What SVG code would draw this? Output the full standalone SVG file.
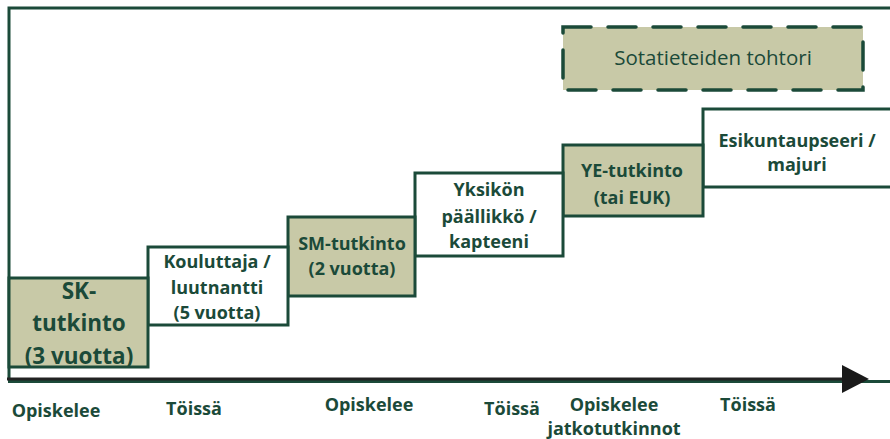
<svg xmlns="http://www.w3.org/2000/svg" width="890" height="439" viewBox="0 0 890 439">
  <style>
    .frame { fill: none; stroke: #1b4a39; stroke-width: 3; }
    .study { fill: #c8c9a7; stroke: #1b4a39; stroke-width: 3; }
    .work { fill: #ffffff; stroke: #1b4a39; stroke-width: 3; }
    .doc { fill: #c8c9a7; stroke: #1b4a39; stroke-width: 3.5; stroke-dasharray: 28 17; stroke-linecap: round; }
    text { font-family: "Open Sans", Lato, "Liberation Sans", sans-serif; fill: #1b4a39; text-anchor: middle; }
    .b { font-weight: bold; font-size: 18px; }
    .big { font-weight: bold; font-size: 22.5px; }
    .lbl { font-weight: bold; font-size: 18px; }
    .reg { font-size: 20.5px; }
  </style>

  <!-- outer frame -->
  <g id="frame">
    <polyline class="frame" points="9,380 9,8 890,8"/>
  </g>

  <g id="doctor">
    <rect class="doc" x="563" y="27" width="300" height="63"/>
    <text class="reg" x="713" y="65">Sotatieteiden tohtori</text>
  </g>

  <g id="esikunta">
    <rect class="work" x="703" y="109" width="190" height="78"/>
    <text class="b" x="797" y="147">Esikuntaupseeri /</text>
    <text class="b" x="797" y="171">majuri</text>
  </g>

  <g id="ye">
    <rect class="study" x="563" y="145" width="140" height="71"/>
    <text class="b" x="632" y="177">YE-tutkinto</text>
    <text class="b" x="632" y="204">(tai EUK)</text>
  </g>

  <g id="yksikko">
    <rect class="work" x="415" y="173" width="148" height="83"/>
    <text class="b" x="489" y="196">Yksikön</text>
    <text class="b" x="489" y="223">päällikkö /</text>
    <text class="b" x="489" y="248">kapteeni</text>
  </g>

  <g id="sm">
    <rect class="study" x="288" y="217" width="127" height="79"/>
    <text class="b" x="352" y="250">SM-tutkinto</text>
    <text class="b" x="352" y="275">(2 vuotta)</text>
  </g>

  <g id="kouluttaja">
    <rect class="work" x="148" y="247" width="140" height="78"/>
    <text class="b" x="217" y="268">Kouluttaja /</text>
    <text class="b" x="217" y="294">luutnantti</text>
    <text class="b" x="217" y="319">(5 vuotta)</text>
  </g>

  <g id="sk">
    <rect class="study" x="9" y="278" width="139" height="89"/>
    <text class="big" x="79" y="299">SK-</text>
    <text class="big" x="79" y="331">tutkinto</text>
    <text class="big" x="79" y="364">(3 vuotta)</text>
  </g>

  <!-- time axis -->
  <g id="connectors">
    <line x1="8" y1="381.5" x2="890" y2="381.5" stroke="#1b4a39" stroke-width="3"/>
    <line x1="7" y1="379" x2="845" y2="379" stroke="#222222" stroke-width="3"/>
    <polygon points="842,365 869,379 842,393" fill="#1a1a1a"/>
  </g>

  <g id="labels">
    <text class="lbl" x="56" y="417">Opiskelee</text>
    <text class="lbl" x="194" y="415">Töissä</text>
    <text class="lbl" x="369" y="411">Opiskelee</text>
    <text class="lbl" x="512" y="415">Töissä</text>
    <text class="lbl" x="614" y="411">Opiskelee</text>
    <text class="lbl" x="614" y="435">jatkotutkinnot</text>
    <text class="lbl" x="748" y="411">Töissä</text>
  </g>
</svg>
